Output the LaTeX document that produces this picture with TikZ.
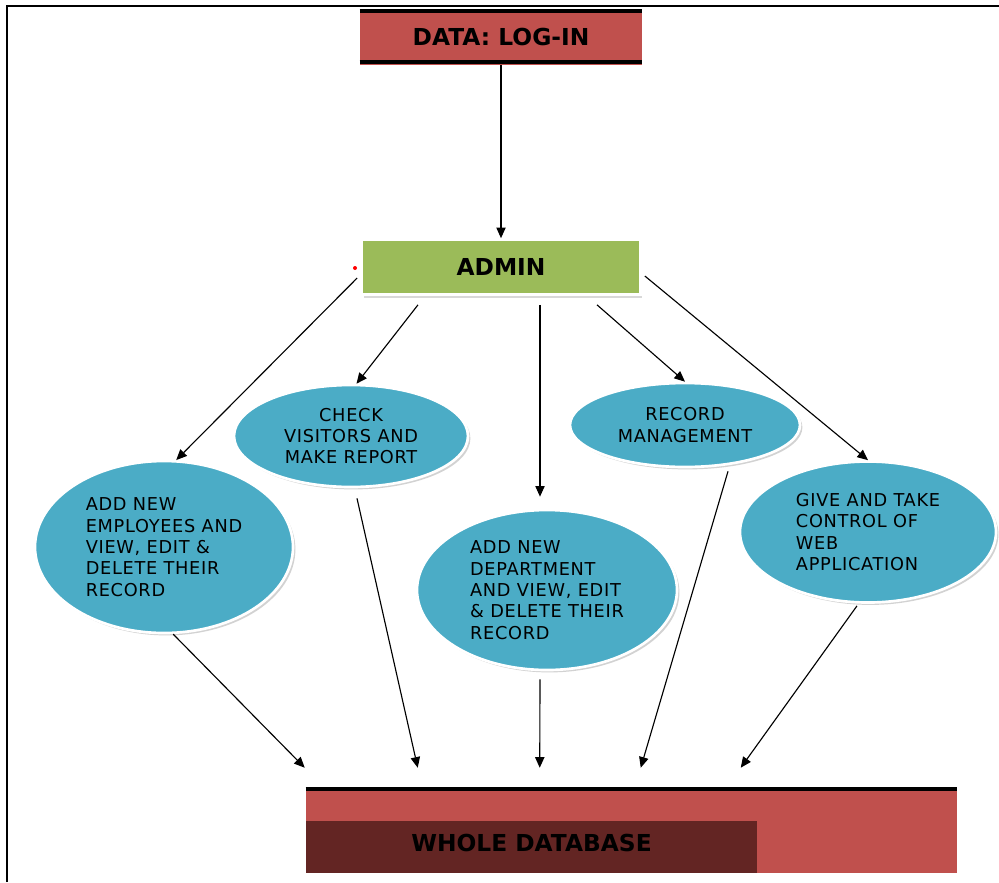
\documentclass[tikz,border=0pt]{standalone}
\usepackage{fontspec}
\setmainfont{DejaVu Sans}
\newfontfamily\ovalfont[LetterSpace=4]{DejaVu Sans}
\usepackage{tikz}
\usepackage{xcolor}
\usetikzlibrary{shapes.geometric, arrows.meta, positioning, calc, shadows}
\definecolor{logred}{HTML}{C0504D}
\definecolor{admgreen}{HTML}{9BBB59}
\definecolor{ovalblue}{HTML}{4BACC6}
\definecolor{dbdark}{HTML}{632523}

\begin{document}
\begin{tikzpicture}[x=0.75pt, y=-0.75pt,
    oval/.style={ellipse, fill=ovalblue, draw=white, line width=2pt, inner sep=0pt,
        drop shadow={shadow xshift=1.8pt, shadow yshift=-1.8pt, fill=gray!70},
        font={\ovalfont\fontsize{13.3}{16}\selectfont}},
    title/.style={font={\bfseries\fontsize{17.5}{20}\selectfont}},
    arrow/.style={-{Triangle[length=8pt,width=7pt]}, line width=0.85pt}]
\useasboundingbox (0,0) rectangle (999,882);
% page frame
\draw[line width=2pt] (7,882) -- (7,6) -- (999,6);

% top: login
\node[title, fill=logred, minimum width=211.5pt, minimum height=41.25pt] (login) at (501,37) {DATA: LOG-IN};
\draw[line width=3pt] ([yshift=-1.5pt]login.north west) -- ([yshift=-1.5pt]login.north east);
\draw[line width=3pt] ([yshift=1.8pt]login.south west) -- ([yshift=1.8pt]login.south east);

% admin
\node[title, fill=admgreen, draw=white, line width=2.25pt, minimum width=209pt, minimum height=41pt,
    drop shadow={shadow xshift=1.5pt, shadow yshift=-3pt, fill=gray!60}] (admin) at (501,267) {ADMIN};
\fill[red] (355,268) circle (2);

% tasks
\node[oval, align=left, minimum width=193.5pt, minimum height=129pt] (emp) at (164,547)
    {ADD NEW\\EMPLOYEES AND\\VIEW, EDIT \&\\DELETE THEIR\\RECORD};
\node[oval, align=center, minimum width=175.5pt, minimum height=76.5pt] (check) at (351,436)
    {CHECK\\VISITORS AND\\MAKE REPORT};
\node[oval, align=left, minimum width=195pt, minimum height=120pt] (dept) at (547,590)
    {ADD NEW\\DEPARTMENT\\AND VIEW, EDIT\\\& DELETE THEIR\\RECORD};
\node[oval, align=center, minimum width=172.5pt, minimum height=63pt] (rec) at (685,425)
    {RECORD\\MANAGEMENT};
\node[oval, align=left, minimum width=192pt, minimum height=105.75pt] (give) at (868,532)
    {GIVE AND TAKE\\CONTROL OF\\WEB\\APPLICATION};

% database
\node[fill=logred, minimum width=488.25pt, minimum height=64.5pt] (db) at (631.5,830) {};
\draw[line width=3pt] ([yshift=-1.5pt]db.north west) -- ([yshift=-1.5pt]db.north east);
\node[title, fill=dbdark, minimum width=338.25pt, minimum height=39pt, text depth=6pt, anchor=south west] (dbname) at (db.south west) {WHOLE DATABASE};

% arrows
\draw[arrow] (login.south) -- (admin.north);
\draw[arrow] ([shift={(-3,11)}]admin.west) -- (emp.82);
\draw[arrow] ([shift={(-83,9)}]admin.south) -- (check.84);
\draw[arrow, shorten >=9pt] ([shift={(39,9)}]admin.south) -- ([shift={(-7,0)}]dept.north);
\draw[arrow] ([shift={(96,9)}]admin.south) -- (rec.north);
\draw[arrow] ([shift={(3,9)}]admin.east) -- (give.north);

\draw[arrow] (emp.-84) -- ([shift={(-1,-19)}]db.north west);
\draw[arrow] ([shift={(6,10)}]check.south) -- ([shift={(112,-19)}]db.north west);
\draw[arrow] ([shift={(-7,8)}]dept.south) -- ([shift={(234,-19)}]db.north west);
\draw[arrow] ([shift={(43,3)}]rec.south) -- ([shift={(335,-19)}]db.north west);
\draw[arrow] ([shift={(-11,2)}]give.south) -- ([shift={(435,-19)}]db.north west);
\end{tikzpicture}
\end{document}
